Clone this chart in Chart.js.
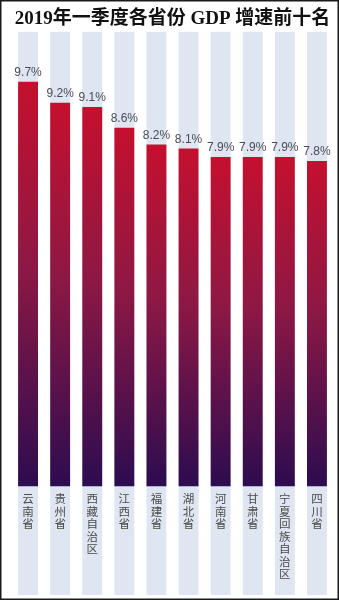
<!DOCTYPE html>
<html>
<head>
<meta charset="utf-8">
<script src="https://cdn.jsdelivr.net/npm/chart.js@4/dist/chart.umd.min.js"></script>
<style>
  html, body { margin: 0; padding: 0; background: #fff; }
  #wrap { position: relative; width: 339px; height: 600px; }
  canvas { display: block; }
</style>
</head>
<body>
<div id="wrap"><canvas id="c" width="339" height="600"></canvas></div>
<script>
const titleText = '2019年一季度各省份 GDP 增速前十名';
const categories = ['云南省', '贵州省', '西藏自治区', '江西省', '福建省', '湖北省', '河南省', '甘肃省', '宁夏回族自治区', '四川省'];
const growth = [9.7, 9.2, 9.1, 8.6, 8.2, 8.1, 7.9, 7.9, 7.9, 7.8];
const valueLabels = growth.map(v => v.toFixed(1) + '%');

const columnBg = {
  id: 'columnBg',
  beforeDraw(chart) {
    const { ctx, chartArea } = chart;
    const meta = chart.getDatasetMeta(0);
    ctx.save();
    ctx.fillStyle = '#dfe6f1';
    meta.data.forEach(el => {
      const w = el.width;
      ctx.fillRect(el.x - w / 2, chartArea.top, w, chart.height - 5 - chartArea.top);
    });
    ctx.restore();
  }
};

const valueText = {
  id: 'valueText',
  afterDatasetsDraw(chart) {
    const { ctx } = chart;
    const meta = chart.getDatasetMeta(0);
    ctx.save();
    ctx.font = '12px "Liberation Sans", Arial, sans-serif';
    ctx.fillStyle = '#4a4a55';
    ctx.textAlign = 'center';
    ctx.textBaseline = 'bottom';
    meta.data.forEach((el, i) => {
      ctx.fillText(valueLabels[i], el.x, el.y - 3);
    });
    ctx.restore();
  }
};

const frame = {
  id: 'frame',
  afterDraw(chart) {
    const { ctx } = chart;
    ctx.save();
    ctx.strokeStyle = '#1a1a1a';
    ctx.lineWidth = 1.5;
    ctx.strokeRect(0.75, 0.75, chart.width - 1.5, chart.height - 1.5);
    ctx.restore();
  }
};

function barGradient(context) {
  const chart = context.chart;
  if (!chart.chartArea || !chart.scales.y) return '#a01438';
  const y = chart.scales.y;
  const top = y.getPixelForValue(context.raw);
  const bottom = y.getPixelForValue(0);
  const g = chart.ctx.createLinearGradient(0, top, 0, bottom);
  g.addColorStop(0, '#c5102e');
  g.addColorStop(0.45, '#8e1844');
  g.addColorStop(1, '#2c0c50');
  return g;
}

new Chart(document.getElementById('c'), {
  type: 'bar',
  data: {
    labels: categories.map(s => s.split('')),
    datasets: [{
      data: growth,
      backgroundColor: barGradient,
      borderWidth: 0,
      barPercentage: 0.62,
      categoryPercentage: 1
    }]
  },
  options: {
    responsive: false,
    animation: false,
    devicePixelRatio: 1,
    layout: { padding: { left: 12, right: 6, top: 1, bottom: 14 } },
    plugins: {
      legend: { display: false },
      tooltip: { enabled: false },
      title: {
        display: true,
        text: titleText,
        color: '#111',
        font: { family: '"Liberation Serif", "Noto Sans CJK SC", serif', size: 19, weight: 'bold' },
        padding: { top: 7, bottom: 1 }
      }
    },
    scales: {
      x: {
        grid: { display: false, drawTicks: false },
        border: { display: false },
        ticks: {
          color: '#4a4a4a',
          padding: 6,
          maxRotation: 0,
          autoSkip: false,
          font: { family: '"Noto Sans CJK SC", sans-serif', size: 11.5, lineHeight: '12.5px' }
        }
      },
      y: {
        display: false,
        min: 0,
        max: 10.9
      }
    }
  },
  plugins: [columnBg, valueText, frame]
});
</script>
</body>
</html>
